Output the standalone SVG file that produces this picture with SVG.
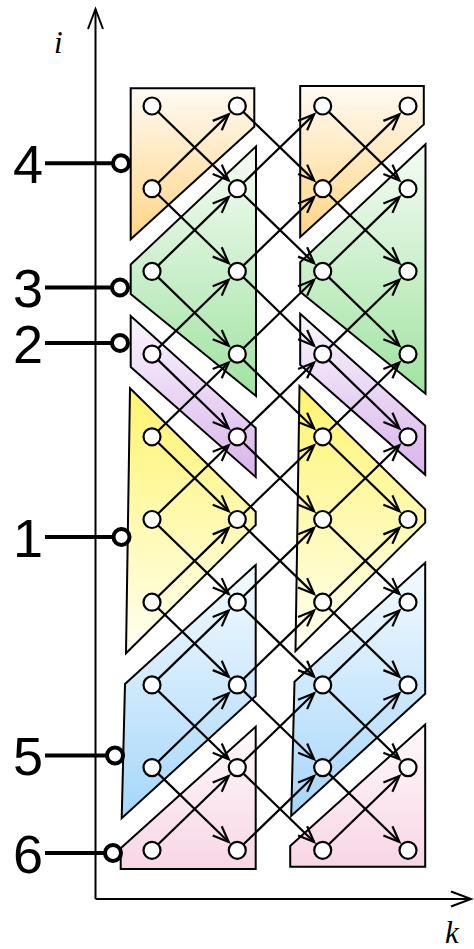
<svg xmlns="http://www.w3.org/2000/svg" width="474" height="949" viewBox="0 0 474 949">
<style>
.reg{stroke:#000;stroke-width:2;stroke-linejoin:miter}
.e{stroke:#000;stroke-width:2.2;fill:none;marker-end:url(#ah)}
.n{fill:#fff;stroke:#000;stroke-width:2.2}
.ax{stroke:#000;stroke-width:2;fill:none}
.lbl{font-family:"Liberation Sans",Arial,sans-serif;font-size:54px;fill:#000}
.ll{stroke:#000;stroke-width:4}
.lc{fill:#fff;stroke:#000;stroke-width:4}
.var{font-family:"Liberation Serif","Times New Roman",serif;font-style:italic;font-size:31px;fill:#000}
</style>
<defs>
<marker id="ah" markerUnits="userSpaceOnUse" markerWidth="20" markerHeight="20" refX="0" refY="0" orient="auto" overflow="visible">
<path d="M-16,-6.5 L0,0 L-16,6.5" fill="none" stroke="#000" stroke-width="2.2"/>
</marker>
<linearGradient id="og" x1="0" y1="0" x2="0" y2="1"><stop offset="0" stop-color="#fffaf3"/><stop offset="1" stop-color="#ffd584"/></linearGradient>
<linearGradient id="gg" x1="0" y1="0" x2="0" y2="1"><stop offset="0" stop-color="#f6fcf6"/><stop offset="1" stop-color="#9fe3a0"/></linearGradient>
<linearGradient id="pg" x1="0" y1="0" x2="0" y2="1"><stop offset="0" stop-color="#faf6fd"/><stop offset="1" stop-color="#d9b3ec"/></linearGradient>
<linearGradient id="yg" x1="0" y1="0" x2="0" y2="1"><stop offset="0" stop-color="#fff46e"/><stop offset="1" stop-color="#fffff2"/></linearGradient>
<linearGradient id="bg" x1="0" y1="0" x2="0" y2="1"><stop offset="0" stop-color="#f5fbff"/><stop offset="1" stop-color="#a5d6fa"/></linearGradient>
<linearGradient id="kg" x1="0" y1="0" x2="0" y2="1"><stop offset="0" stop-color="#fff9fb"/><stop offset="1" stop-color="#f8d6e6"/></linearGradient>
</defs>
<rect width="474" height="949" fill="#fff"/>
<g id="regions">
<polygon class="reg" fill="url(#og)" points="130.7,88.3 254.3,88.3 254.3,126.7 130.7,239.3"/>
<polygon class="reg" fill="url(#gg)" points="256,146.5 130.7,264.5 130.7,294 256,396"/>
<polygon class="reg" fill="url(#pg)" points="130.7,316 255.7,428 255.7,477 130.7,367"/>
<polygon class="reg" fill="url(#yg)" points="130,388.3 255.7,511.7 255.7,525 126,653.3"/>
<polygon class="reg" fill="url(#bg)" points="125,684 255.7,565 255.7,696 121.7,818.3"/>
<polygon class="reg" fill="url(#kg)" points="255.7,726.7 120.7,848.3 120.7,869 255.7,869"/>
<polygon class="reg" fill="url(#og)" points="300.2,86 423.8,86 423.8,124.4 300.2,237"/>
<polygon class="reg" fill="url(#gg)" points="425.5,144.2 300.2,262.2 300.2,291.7 425.5,393.7"/>
<polygon class="reg" fill="url(#pg)" points="300.2,313.7 425.2,425.7 425.2,474.7 300.2,364.7"/>
<polygon class="reg" fill="url(#yg)" points="299.5,386 425.2,509.4 425.2,522.7 295.5,651"/>
<polygon class="reg" fill="url(#bg)" points="294.5,681.7 425.2,562.7 425.2,693.7 291.2,816"/>
<polygon class="reg" fill="url(#kg)" points="425.2,724.4 290.2,846 290.2,866.7 425.2,866.7"/>
</g>
<g id="axes">
<line class="ax" x1="95.5" y1="899" x2="95.5" y2="9"/>
<path class="ax" d="M88,29 L95.5,9 L103,29"/>
<line class="ax" x1="95.5" y1="899" x2="471" y2="899"/>
<path class="ax" d="M451,891.5 L471,899 L451,906.5"/>
<text class="var" x="54" y="53">i</text>
<text class="var" x="445" y="943">k</text>
</g>
<g id="connectors">
<line class="e" x1="152" y1="188.7" x2="228.7" y2="114.4"/>
<line class="e" x1="152" y1="271.4" x2="228.7" y2="197.1"/>
<line class="e" x1="152" y1="354.1" x2="228.7" y2="279.8"/>
<line class="e" x1="152" y1="436.8" x2="228.7" y2="362.5"/>
<line class="e" x1="152" y1="519.5" x2="228.7" y2="445.2"/>
<line class="e" x1="152" y1="602.2" x2="228.7" y2="527.9"/>
<line class="e" x1="152" y1="684.9" x2="228.7" y2="610.6"/>
<line class="e" x1="152" y1="767.6" x2="228.7" y2="693.3"/>
<line class="e" x1="152" y1="850.3" x2="228.7" y2="776"/>
<line class="e" x1="152" y1="106" x2="228.7" y2="180.4"/>
<line class="e" x1="152" y1="188.7" x2="228.7" y2="263.1"/>
<line class="e" x1="152" y1="271.4" x2="228.7" y2="345.8"/>
<line class="e" x1="152" y1="354.1" x2="228.7" y2="428.5"/>
<line class="e" x1="152" y1="436.8" x2="228.7" y2="511.2"/>
<line class="e" x1="152" y1="519.5" x2="228.7" y2="593.9"/>
<line class="e" x1="152" y1="602.2" x2="228.7" y2="676.6"/>
<line class="e" x1="152" y1="684.9" x2="228.7" y2="759.3"/>
<line class="e" x1="152" y1="767.6" x2="228.7" y2="842"/>
<line class="e" x1="237.3" y1="188.7" x2="314.1" y2="114.4"/>
<line class="e" x1="237.3" y1="271.4" x2="314.1" y2="197.1"/>
<line class="e" x1="237.3" y1="354.1" x2="314.1" y2="279.8"/>
<line class="e" x1="237.3" y1="436.8" x2="314.1" y2="362.5"/>
<line class="e" x1="237.3" y1="519.5" x2="314.1" y2="445.2"/>
<line class="e" x1="237.3" y1="602.2" x2="314.1" y2="527.9"/>
<line class="e" x1="237.3" y1="684.9" x2="314.1" y2="610.6"/>
<line class="e" x1="237.3" y1="767.6" x2="314.1" y2="693.3"/>
<line class="e" x1="237.3" y1="850.3" x2="314.1" y2="776"/>
<line class="e" x1="237.3" y1="106" x2="314.1" y2="180.4"/>
<line class="e" x1="237.3" y1="188.7" x2="314.1" y2="263.1"/>
<line class="e" x1="237.3" y1="271.4" x2="314.1" y2="345.8"/>
<line class="e" x1="237.3" y1="354.1" x2="314.1" y2="428.5"/>
<line class="e" x1="237.3" y1="436.8" x2="314.1" y2="511.2"/>
<line class="e" x1="237.3" y1="519.5" x2="314.1" y2="593.9"/>
<line class="e" x1="237.3" y1="602.2" x2="314.1" y2="676.6"/>
<line class="e" x1="237.3" y1="684.9" x2="314.1" y2="759.3"/>
<line class="e" x1="237.3" y1="767.6" x2="314.1" y2="842"/>
<line class="e" x1="322.7" y1="188.7" x2="399.4" y2="114.4"/>
<line class="e" x1="322.7" y1="271.4" x2="399.4" y2="197.1"/>
<line class="e" x1="322.7" y1="354.1" x2="399.4" y2="279.8"/>
<line class="e" x1="322.7" y1="436.8" x2="399.4" y2="362.5"/>
<line class="e" x1="322.7" y1="519.5" x2="399.4" y2="445.2"/>
<line class="e" x1="322.7" y1="602.2" x2="399.4" y2="527.9"/>
<line class="e" x1="322.7" y1="684.9" x2="399.4" y2="610.6"/>
<line class="e" x1="322.7" y1="767.6" x2="399.4" y2="693.3"/>
<line class="e" x1="322.7" y1="850.3" x2="399.4" y2="776"/>
<line class="e" x1="322.7" y1="106" x2="399.4" y2="180.4"/>
<line class="e" x1="322.7" y1="188.7" x2="399.4" y2="263.1"/>
<line class="e" x1="322.7" y1="271.4" x2="399.4" y2="345.8"/>
<line class="e" x1="322.7" y1="354.1" x2="399.4" y2="428.5"/>
<line class="e" x1="322.7" y1="436.8" x2="399.4" y2="511.2"/>
<line class="e" x1="322.7" y1="519.5" x2="399.4" y2="593.9"/>
<line class="e" x1="322.7" y1="602.2" x2="399.4" y2="676.6"/>
<line class="e" x1="322.7" y1="684.9" x2="399.4" y2="759.3"/>
<line class="e" x1="322.7" y1="767.6" x2="399.4" y2="842"/>
</g>
<g id="nodes">
<g id="n0_0"><circle class="n" cx="152" cy="106" r="8.5"/></g>
<g id="n0_1"><circle class="n" cx="152" cy="188.7" r="8.5"/></g>
<g id="n0_2"><circle class="n" cx="152" cy="271.4" r="8.5"/></g>
<g id="n0_3"><circle class="n" cx="152" cy="354.1" r="8.5"/></g>
<g id="n0_4"><circle class="n" cx="152" cy="436.8" r="8.5"/></g>
<g id="n0_5"><circle class="n" cx="152" cy="519.5" r="8.5"/></g>
<g id="n0_6"><circle class="n" cx="152" cy="602.2" r="8.5"/></g>
<g id="n0_7"><circle class="n" cx="152" cy="684.9" r="8.5"/></g>
<g id="n0_8"><circle class="n" cx="152" cy="767.6" r="8.5"/></g>
<g id="n0_9"><circle class="n" cx="152" cy="850.3" r="8.5"/></g>
<g id="n1_0"><circle class="n" cx="237.3" cy="106" r="8.5"/></g>
<g id="n1_1"><circle class="n" cx="237.3" cy="188.7" r="8.5"/></g>
<g id="n1_2"><circle class="n" cx="237.3" cy="271.4" r="8.5"/></g>
<g id="n1_3"><circle class="n" cx="237.3" cy="354.1" r="8.5"/></g>
<g id="n1_4"><circle class="n" cx="237.3" cy="436.8" r="8.5"/></g>
<g id="n1_5"><circle class="n" cx="237.3" cy="519.5" r="8.5"/></g>
<g id="n1_6"><circle class="n" cx="237.3" cy="602.2" r="8.5"/></g>
<g id="n1_7"><circle class="n" cx="237.3" cy="684.9" r="8.5"/></g>
<g id="n1_8"><circle class="n" cx="237.3" cy="767.6" r="8.5"/></g>
<g id="n1_9"><circle class="n" cx="237.3" cy="850.3" r="8.5"/></g>
<g id="n2_0"><circle class="n" cx="322.7" cy="106" r="8.5"/></g>
<g id="n2_1"><circle class="n" cx="322.7" cy="188.7" r="8.5"/></g>
<g id="n2_2"><circle class="n" cx="322.7" cy="271.4" r="8.5"/></g>
<g id="n2_3"><circle class="n" cx="322.7" cy="354.1" r="8.5"/></g>
<g id="n2_4"><circle class="n" cx="322.7" cy="436.8" r="8.5"/></g>
<g id="n2_5"><circle class="n" cx="322.7" cy="519.5" r="8.5"/></g>
<g id="n2_6"><circle class="n" cx="322.7" cy="602.2" r="8.5"/></g>
<g id="n2_7"><circle class="n" cx="322.7" cy="684.9" r="8.5"/></g>
<g id="n2_8"><circle class="n" cx="322.7" cy="767.6" r="8.5"/></g>
<g id="n2_9"><circle class="n" cx="322.7" cy="850.3" r="8.5"/></g>
<g id="n3_0"><circle class="n" cx="408" cy="106" r="8.5"/></g>
<g id="n3_1"><circle class="n" cx="408" cy="188.7" r="8.5"/></g>
<g id="n3_2"><circle class="n" cx="408" cy="271.4" r="8.5"/></g>
<g id="n3_3"><circle class="n" cx="408" cy="354.1" r="8.5"/></g>
<g id="n3_4"><circle class="n" cx="408" cy="436.8" r="8.5"/></g>
<g id="n3_5"><circle class="n" cx="408" cy="519.5" r="8.5"/></g>
<g id="n3_6"><circle class="n" cx="408" cy="602.2" r="8.5"/></g>
<g id="n3_7"><circle class="n" cx="408" cy="684.9" r="8.5"/></g>
<g id="n3_8"><circle class="n" cx="408" cy="767.6" r="8.5"/></g>
<g id="n3_9"><circle class="n" cx="408" cy="850.3" r="8.5"/></g>
</g>
<g id="labels">
<g id="lbl4"><line class="ll" x1="45" y1="163.3" x2="113" y2="163.3"/><circle class="lc" cx="121" cy="163.3" r="8"/><text class="lbl" x="13" y="182.5">4</text></g>
<g id="lbl3"><line class="ll" x1="45" y1="287.5" x2="112" y2="287.5"/><circle class="lc" cx="120" cy="287.5" r="8"/><text class="lbl" x="13" y="307">3</text></g>
<g id="lbl2"><line class="ll" x1="45" y1="343" x2="112" y2="343"/><circle class="lc" cx="120" cy="343" r="8"/><text class="lbl" x="13" y="362.5">2</text></g>
<g id="lbl1"><line class="ll" x1="45" y1="537" x2="113" y2="537"/><circle class="lc" cx="121.5" cy="537" r="8"/><text class="lbl" x="13" y="556.5">1</text></g>
<g id="lbl5"><line class="ll" x1="45" y1="755.5" x2="107" y2="755.5"/><circle class="lc" cx="115" cy="755.5" r="8"/><text class="lbl" x="13" y="775">5</text></g>
<g id="lbl6"><line class="ll" x1="45" y1="853" x2="105" y2="853"/><circle class="lc" cx="113" cy="853" r="8"/><text class="lbl" x="13" y="872.5">6</text></g>
</g>
</svg>
